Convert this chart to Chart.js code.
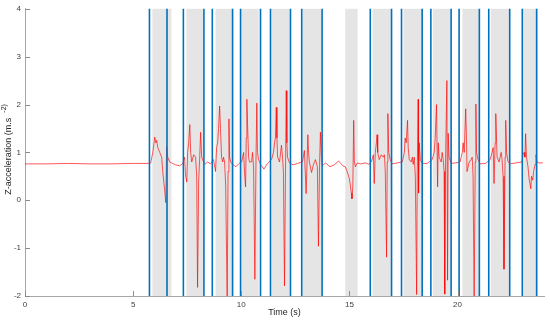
<!DOCTYPE html>
<html>
<head>
<meta charset="utf-8">
<script src="https://cdn.jsdelivr.net/npm/chart.js@4.4.1/dist/chart.umd.min.js"></script>
<style>
  html, body { margin: 0; padding: 0; background: #ffffff; }
  #wrap { width: 550px; height: 322px; }
</style>
</head>
<body>
<div id="wrap"><canvas id="c" width="550" height="322"></canvas></div>
<script>
// ---- data ----
const timeS = [0,1,2,3,4,5,5.7,5.8,
  5.82,5.91,6.0,6.05,6.09,6.14,6.23,6.32,6.37,6.46,6.51,6.55,6.6,6.69,6.78,6.97,7.15,7.29,
  7.38,7.43,7.48,7.52,7.57,7.62,7.66,7.71,7.8,7.89,7.94,7.98,8.03,8.08,8.12,8.17,8.21,8.31,8.45,8.58,
  8.72,8.81,8.86,8.91,8.95,9.0,9.04,9.09,9.14,9.18,9.23,9.28,9.35,9.39,9.43,9.46,9.51,9.6,9.75,9.9,
  10.02,10.11,10.15,10.2,10.23,10.26,10.29,10.34,10.38,10.48,10.52,10.57,10.63,10.68,10.72,10.75,10.8,10.89,11.05,11.2,
  11.4,11.49,11.54,11.58,11.62,11.65,11.68,11.77,11.86,11.91,11.95,12.0,12.05,12.08,12.11,12.14,12.23,12.4,12.6,
  12.83,12.92,13.0,13.08,13.11,13.15,13.25,13.34,13.43,13.52,13.57,13.62,13.66,13.71,13.75,13.9,14.1,14.3,14.5,14.7,
  14.81,14.9,15.0,15.05,15.09,15.12,15.16,15.2,15.23,15.28,15.37,15.5,15.75,15.9,
  16.01,16.11,16.15,16.2,16.25,16.28,16.31,16.38,16.48,16.57,16.62,16.66,16.72,16.75,16.78,16.82,16.89,16.98,17.2,
  17.45,17.54,17.58,17.63,17.69,17.72,17.77,17.86,17.91,17.95,18.0,18.05,18.11,18.14,18.18,18.2,18.23,18.28,18.37,18.6,
  18.83,18.92,18.97,19.03,19.08,19.11,19.15,19.25,19.29,19.34,19.38,19.41,19.45,19.51,19.54,19.57,19.61,19.71,19.9,
  20.12,20.22,20.26,20.31,20.38,20.42,20.44,20.54,20.63,20.68,20.72,20.77,20.82,20.85,20.88,20.95,21.05,21.3,
  21.51,21.6,21.65,21.69,21.74,21.77,21.81,21.83,21.92,22.02,22.06,22.11,22.15,22.2,22.23,22.27,22.34,22.43,22.7,
  22.98,23.03,23.08,23.12,23.15,23.19,23.26,23.31,23.39,23.42,23.48,23.52,23.59,23.63,23.68,23.77,23.95];
const zAcc = [0.76,0.76,0.77,0.76,0.76,0.77,0.77,0.78,
  0.8,1.0,1.32,1.2,1.25,1.1,1.0,0.9,0.6,0.2,-0.05,1.12,0.9,0.8,0.78,0.74,0.72,0.76,
  0.9,0.5,0.38,1.0,1.2,1.58,1.0,0.8,0.95,0.9,0.5,-1.82,0.4,0.9,1.42,0.9,0.85,0.75,0.8,0.76,
  0.85,0.6,1.1,1.2,1.5,1.97,1.5,0.9,0.8,0.9,0.8,0.3,-2.1,0.6,1.7,0.9,0.8,0.75,0.7,0.77,
  0.8,1.0,0.6,0.28,1.3,2.11,1.6,0.9,0.8,0.8,1.0,0.7,-1.65,0.8,2.03,1.0,0.85,0.75,0.65,0.76,
  0.85,1.0,1.2,1.3,1.94,1.3,0.9,0.8,1.15,0.9,0.6,-1.79,0.8,2.29,1.2,0.9,0.78,0.74,0.77,
  0.8,1.04,0.14,1.37,1.0,0.8,0.58,0.75,0.85,0.7,-0.96,0.7,1.42,0.9,0.72,0.78,0.7,0.74,0.82,0.72,
  0.7,0.6,0.45,0.3,0.15,0.03,0.3,1.67,0.8,0.7,0.78,0.76,0.78,0.75,
  0.8,0.95,0.35,1.0,1.2,1.37,1.0,0.85,0.95,0.9,0.95,0.6,-1.19,0.8,1.81,1.0,0.85,0.76,0.78,
  0.8,1.0,1.3,1.2,1.67,1.1,0.85,0.8,0.9,0.75,0.9,0.5,-1.97,0.6,2.11,0.15,1.2,0.85,0.77,0.77,
  0.85,1.0,1.3,2.0,0.28,1.2,0.9,0.8,1.0,0.85,0.6,-1.96,0.9,2.5,-1.67,1.4,0.9,0.77,0.78,
  0.8,1.0,1.2,1.0,1.91,1.2,0.6,0.8,0.85,0.9,0.5,-2.1,0.8,2.01,1.0,0.85,0.76,0.77,
  0.85,1.0,1.1,0.35,1.2,1.81,1.2,0.9,0.8,1.0,0.85,0.5,-1.44,0.9,1.67,1.0,0.8,0.76,0.78,
  0.8,0.95,1.0,0.9,1.39,0.9,0.7,0.45,0.24,0.5,0.42,0.6,0.75,0.95,0.8,0.78,0.78];

// vertical event markers (s)
const eventLines = [5.755,6.567,7.324,8.274,8.662,9.599,9.968,10.891,11.353,12.276,12.797,13.738,
  15.967,16.950,17.411,18.367,18.768,19.705,20.074,21.011,21.445,22.414,22.996,23.660];
// shaded intervals (s)
const shadeStart = [5.89,7.46,8.81,10.0,11.41,12.84,14.81,16.07,17.50,18.87,20.23,21.54,23.04];
const shadeEnd   = [6.77,8.23,9.60,10.81,12.23,13.69,15.38,16.92,18.38,19.69,21.0,22.38,23.69];

const xTicks = [0,5,10,15,20];
const yTicks = [-2,-1,0,1,2,3,4];
const xTitle = 'Time (s)';
const yTitleMain = 'Z-acceleration (m.s';
const yTitleSup = '-2)';

const FONT = '"Liberation Sans", Arial, Helvetica, sans-serif';

const points = timeS.map((t, i) => ({ x: t, y: zAcc[i] }));

const overlay = {
  id: 'overlay',
  beforeDatasetsDraw(chart) {
    const { ctx, chartArea: a, scales: { x } } = chart;
    ctx.save();
    ctx.fillStyle = '#e5e5e5';
    shadeStart.forEach((s, i) => {
      const x0 = x.getPixelForValue(s), x1 = x.getPixelForValue(shadeEnd[i]);
      ctx.fillRect(x0, a.top, x1 - x0, a.bottom - a.top);
    });
    ctx.restore();
  },
  afterDatasetsDraw(chart) {
    const { ctx, chartArea: a, scales: { x } } = chart;
    ctx.save();
    ctx.strokeStyle = '#0072bd';
    ctx.lineWidth = 1.6;
    eventLines.forEach(v => {
      const px = x.getPixelForValue(v);
      ctx.beginPath(); ctx.moveTo(px, a.top); ctx.lineTo(px, a.bottom); ctx.stroke();
    });
    ctx.restore();
  },
  afterDraw(chart) {
    const { ctx, chartArea: a, scales: { x, y } } = chart;
    ctx.save();
    // inward tick marks
    ctx.strokeStyle = '#8c8c8c';
    ctx.lineWidth = 1;
    xTicks.forEach(v => {
      const px = Math.round(x.getPixelForValue(v)) + 0.5;
      ctx.beginPath(); ctx.moveTo(px, a.bottom); ctx.lineTo(px, a.bottom - 5); ctx.stroke();
    });
    yTicks.forEach(v => {
      const py = Math.round(y.getPixelForValue(v)) + 0.5;
      ctx.beginPath(); ctx.moveTo(a.left, py); ctx.lineTo(a.left + 5, py); ctx.stroke();
    });
    // y axis title with superscript
    ctx.fillStyle = '#262626';
    ctx.translate(11, (a.top + a.bottom) / 2 - 3);
    ctx.rotate(-Math.PI / 2);
    ctx.font = '9px ' + FONT;
    const wMain = ctx.measureText(yTitleMain + '  ').width;
    ctx.font = '7px ' + FONT;
    const wSup = ctx.measureText(yTitleSup).width;
    const total = wMain + wSup;
    ctx.textBaseline = 'alphabetic';
    ctx.textAlign = 'left';
    ctx.font = '9px ' + FONT;
    ctx.fillText(yTitleMain, -total / 2, 0);
    ctx.font = '7px ' + FONT;
    ctx.fillText(yTitleSup, -total / 2 + wMain, -5);
    ctx.restore();
  }
};

new Chart(document.getElementById('c'), {
  type: 'line',
  data: {
    datasets: [{
      data: points,
      borderColor: 'rgba(255,0,0,0.65)',
      borderWidth: 1,
      pointRadius: 0,
      tension: 0,
      fill: false
    }]
  },
  options: {
    responsive: false,
    animation: false,
    events: [],
    layout: { padding: { top: 8, right: 6, left: 0, bottom: 0 } },
    plugins: { legend: { display: false }, tooltip: { enabled: false } },
    scales: {
      x: {
        type: 'linear', min: 0, max: 24,
        afterBuildTicks(s) { s.ticks = xTicks.map(v => ({ value: v })); },
        afterFit(s) { s.height = 26; },
        grid: { display: false, drawTicks: false },
        border: { display: true, color: '#a6a6a6', width: 1 },
        ticks: { font: { family: FONT, size: 8 }, color: '#404040', padding: 4, maxRotation: 0 },
        title: { display: true, text: xTitle, font: { family: FONT, size: 9 }, color: '#262626', padding: { top: 0, bottom: 4 } }
      },
      y: {
        type: 'linear', min: -2, max: 4,
        afterBuildTicks(s) { s.ticks = yTicks.map(v => ({ value: v })); },
        afterFit(s) { s.width = 25; },
        grid: { display: false, drawTicks: false },
        border: { display: true, color: '#a6a6a6', width: 1 },
        ticks: { font: { family: FONT, size: 8 }, color: '#404040', padding: 4 }
      }
    }
  },
  plugins: [overlay]
});
</script>
</body>
</html>
